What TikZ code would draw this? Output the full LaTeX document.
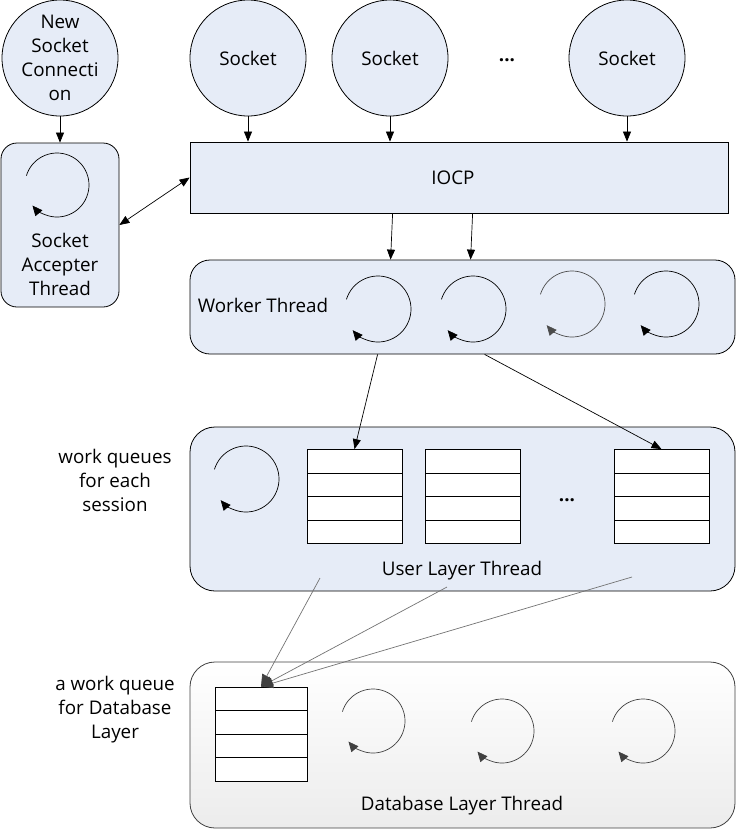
\documentclass[tikz,border=0pt]{standalone}
\usepackage{fontspec}
\setmainfont{Open Sans}
\usetikzlibrary{arrows.meta,calc}
\definecolor{fillblue}{RGB}{230,236,247}
\definecolor{dbtop}{RGB}{255,255,255}
\definecolor{dbbot}{RGB}{236,236,236}
\newcommand\cyc[4]{\draw[cycline,#4] ($(#1,#2)+(-163:#3)$) arc[start angle=-163, end angle=140, radius=#3];}
\begin{document}
\begin{tikzpicture}[x=1pt,y=-1pt,
  every node/.style={font=\fontsize{18.8}{24}\selectfont, inner sep=0pt},
  sock/.style={circle, draw=black, fill=fillblue, line width=0.8pt, minimum size=116pt},
  tbox/.style={rectangle, draw=black, fill=fillblue, line width=0.8pt},
  queue/.style={rectangle, draw=black, fill=white, line width=0.8pt, minimum width=95pt, minimum height=94pt,
    path picture={\foreach \i in {1,2,3} \draw[line width=0.8pt] ($(path picture bounding box.north west)!\i/4!(path picture bounding box.south west)$) -- ($(path picture bounding box.north east)!\i/4!(path picture bounding box.south east)$);}},
  conn/.style={draw=black, line width=0.7pt, -{Triangle[length=10pt,width=8pt]}},
  gconn/.style={draw=black!55, line width=0.7pt, -{Triangle[length=12pt,width=10pt,color=black!75]}},
  cycline/.style={draw=black, line width=0.7pt, -{Triangle[length=10pt,width=9pt]}},
  lbl/.style={align=center}
]
\useasboundingbox (0,0) rectangle (736,831);

% top circles
\node[sock, lbl] (nsc) at (60,58) {New\\Socket\\Connecti\\on};
\node[sock] (s1) at (248,58) {Socket};
\node[sock] (s2) at (390,58) {Socket};
\node[sock] (s3) at (627,58) {Socket};
\node[font=\fontsize{18.8}{24}\bfseries] (dots1) at (507,60) {...};

% accepter
\node[tbox, rounded corners=16pt, minimum width=118pt, minimum height=164pt] (acc) at (60,225) {};
\node[lbl] (acctxt) at (60,264) {Socket\\Accepter\\Thread};
\cyc{57}{185}{32}{}

% IOCP
\node[tbox, minimum width=538pt, minimum height=71pt] (iocp) at (459,177.5) {};
\node (iocptxt) at (453,178) {IOCP};

% worker
\node[tbox, rounded corners=20pt, minimum width=545pt, minimum height=94pt] (work) at (462.5,307) {};
\node (worktxt) at (263,305) {Worker Thread};
\cyc{378}{309}{33}{}
\cyc{473}{309}{33}{}
\cyc{572}{304}{33}{draw=black!70}
\cyc{666}{304}{33}{}

% user layer
\node[tbox, rounded corners=25pt, minimum width=545pt, minimum height=164pt] (user) at (462.5,509) {};
\node (usertxt) at (462,571) {User Layer Thread};
\cyc{246}{479}{33}{}
\node[queue] (q1) at (354.5,496.5) {};
\node[queue] (q2) at (472.5,496.5) {};
\node[queue] (q3) at (661.5,496.5) {};
\node[font=\fontsize{18.8}{24}\bfseries] (dots2) at (567,500) {...};
\node[lbl] (wqlbl) at (115,480) {work queues\\for each\\session};

% database layer
\node[rectangle, draw=black!75, line width=0.8pt, rounded corners=25pt, top color=dbtop, bottom color=dbbot,
  minimum width=545pt, minimum height=166pt] (db) at (462.5,745) {};
\node (dbtxt) at (462,806) {Database Layer Thread};
\node[queue, minimum width=92pt, minimum height=94pt] (dq) at (261,734) {};
\cyc{373}{721}{32}{draw=black!75}
\cyc{502}{731}{32}{draw=black!75}
\cyc{643}{731}{32}{draw=black!75}
\node[lbl] (dblbl) at (115,710) {a work queue\\for Database\\Layer};

% connectors
\draw[conn] (nsc.south) -- (acc.north);
\draw[conn] (s1.south) -- (s1.south |- iocp.north);
\draw[conn] (s2.south) -- (s2.south |- iocp.north);
\draw[conn] (s3.south) -- (s3.south |- iocp.north);
\draw[draw=black, line width=0.7pt, {Triangle[length=10pt,width=8pt]}-{Triangle[length=10pt,width=8pt]}] (acc.east) -- (iocp.west);
\draw[conn] ($(iocp.south west)+(203,0)$) -- ($(work.north west)+(201,0)$);
\draw[conn] ($(iocp.south west)+(283,0)$) -- ($(work.north west)+(281,0)$);
\draw[conn] ($(work.south west)+(188,0)$) -- (q1.north);
\draw[conn] ($(work.south west)+(295,0)$) -- (q3.north);
\coordinate (u1) at (320,578);
\coordinate (u2) at (447,587);
\coordinate (u3) at (632,577);
\draw[gconn] (u1) -- (dq.north);
\draw[gconn] (u2) -- (dq.north);
\draw[gconn] (u3) -- (dq.north);
\end{tikzpicture}
\end{document}
